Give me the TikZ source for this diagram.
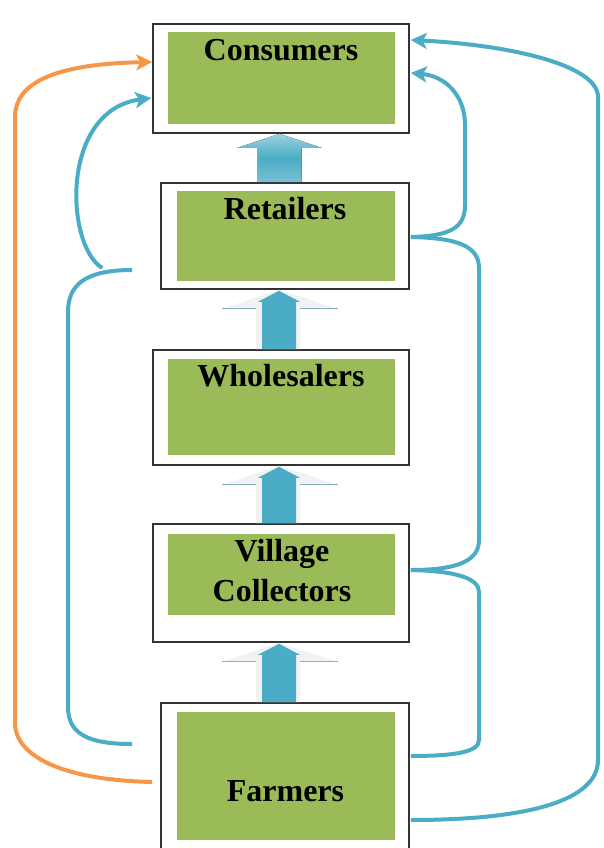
\documentclass[tikz,border=0pt]{standalone}
\usepackage{fontspec}
\setmainfont{Liberation Serif}
\usetikzlibrary{arrows.meta}
\definecolor{leaf}{RGB}{155,187,89}
\definecolor{aqua}{RGB}{75,172,198}
\definecolor{peel}{RGB}{247,150,70}
\definecolor{rim}{RGB}{140,175,190}

\begin{document}
\begin{tikzpicture}[x=0.75pt, y=-0.75pt,
  every node/.style={font=\fontsize{24}{30}\selectfont\bfseries},
  frame/.style={draw=black!80, line width=1.2pt, fill=white, inner sep=0pt},
  leafbox/.style={fill=leaf, inner sep=0pt},
  lbl/.style={inner sep=0pt, align=center},
  flow/.style={draw=aqua, line width=3pt},
  direct/.style={draw=peel, line width=3pt},
  arr/.style={-{Stealth[length=12pt, width=12pt, inset=3pt]}},
  haze/.style={fill=black!5},
  lift/.style={fill=aqua}]
\clip (0,0) rectangle (603,848);
% outer frames
\node[frame, minimum width=192pt, minimum height=81.75pt] (con) at (281,78.5) {};
\node[frame, minimum width=186pt, minimum height=79.5pt] (ret) at (285,236) {};
\node[frame, minimum width=192pt, minimum height=86.25pt] (whs) at (281,407.5) {};
\node[frame, minimum width=192pt, minimum height=88.5pt] (vil) at (281,583) {};
\node[frame, minimum width=186pt, minimum height=111.75pt] (frm) at (285,777.5) {};
% green fields
\node[leafbox, minimum width=170.25pt, minimum height=69pt] (conG) at (281.5,78) {};
\node[leafbox, minimum width=163.5pt, minimum height=67.5pt] (retG) at (286,236) {};
\node[leafbox, minimum width=170.25pt, minimum height=72pt] (whsG) at (281.5,407) {};
\node[leafbox, minimum width=170.25pt, minimum height=60.75pt] (vilG) at (281.5,574.5) {};
\node[leafbox, minimum width=163.5pt, minimum height=96pt] (frmG) at (286,776) {};
% labels
\node[lbl, anchor=base] (conT) at (281,60.7) {Consumers};
\node[lbl, anchor=base] (retT) at (285,219.3) {Retailers};
\node[lbl, anchor=base] (whsT) at (281,386) {Wholesalers};
\node[lbl] (vilT) at (282,571) {Village\\Collectors};
\node[lbl, anchor=base] (frmT) at (285.5,801.7) {Farmers};

% block arrows
\begin{scope}[shift={(279.5,0 |- con.south)}]
  \fill[top color=aqua!55!white, bottom color=aqua!75!white, middle color=aqua]
    (-22,0 |- ret.north) -- (-22,14) -- (-42,14) -- (0,0) -- (42,14) -- (22,14) -- (22,0 |- ret.north) -- cycle;
\end{scope}
\foreach \hi/\lo in {ret/whs, whs/vil, vil/frm}{
  \begin{scope}[shift={(279,0 |- \hi.south)}]
    \fill[haze] (-23,3 |- \lo.north) -- (-23,19) -- (-57,19) -- (0,0) -- (59,19) -- (21,19) -- (21,3 |- \lo.north) -- cycle;
    \fill[lift] (-17,0 |- \lo.north) -- (-17,12) -- (-21,12) -- (0,1) -- (21,12) -- (17,12) -- (17,0 |- \lo.north) -- cycle;
    \draw[rim, line width=1pt] (-57,19) -- (-23,19) (21,19) -- (59,19);
  \end{scope}}

% left side
\draw[direct, arr] ([shift={(-8,4.5)}]frm.west) .. controls (60,780) and (15,755) .. (15,723)
  -- (15,117) .. controls (15,85) and (50,64) .. ([shift={(0,-16.5)}]con.west);
\draw[flow] ([shift={(-28,-33.5)}]frm.west) .. controls (90,744) and (68,735) .. (68,707)
  -- (68,312) .. controls (68,285) and (85,270) .. ([shift={(-28,34)}]ret.west);
\draw[flow, arr] ([shift={(-58,32)}]ret.west) .. controls (65,245) and (60,110) .. ([shift={(-1,19.5)}]con.west);

% right side
\draw[flow, arr] ([shift={(1,42.5)}]frm.east) .. controls (530,820) and (598,800) .. (598,760)
  -- (598,97) .. controls (598,65) and (510,45) .. ([shift={(1,-38.5)}]con.east);
\draw[flow, arr] ([shift={(1,1)}]ret.east) .. controls (450,236) and (465,228) .. (465,205)
  -- (465,125) .. controls (465,95) and (445,76) .. ([shift={(1,-5.5)}]con.east);
\draw[flow] ([shift={(1,-13)}]vil.east) .. controls (455,570) and (479,562) .. (479,540)
  -- (479,268) .. controls (479,245) and (455,238) .. ([shift={(1,1)}]ret.east);
\draw[flow] ([shift={(1,-21.5)}]frm.east) .. controls (455,756) and (479,752) .. (479,740)
  -- (479,592) .. controls (479,578) and (455,571) .. ([shift={(1,-13)}]vil.east);
\end{tikzpicture}
\end{document}
